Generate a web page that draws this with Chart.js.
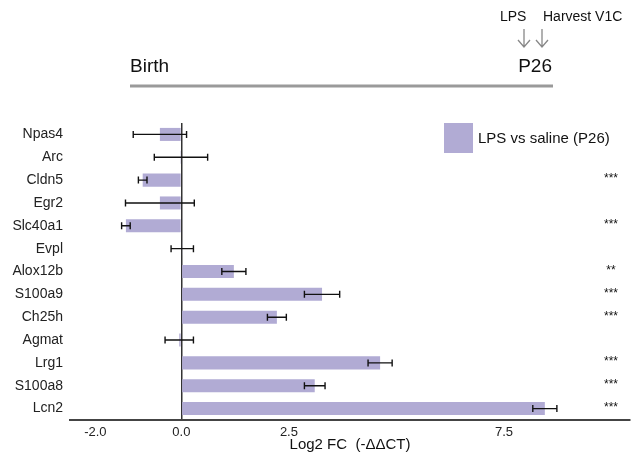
<!DOCTYPE html>
<html>
<head>
<meta charset="utf-8">
<script src="https://cdn.jsdelivr.net/npm/chart.js@4/dist/chart.umd.min.js"></script>
<style>
  html, body { margin: 0; padding: 0; background: #fff; }
  #wrap { width: 633px; height: 462px; position: relative; }
</style>
</head>
<body>
<div id="wrap"><canvas id="c" width="633" height="462"></canvas></div>
<script>
const genes = ['Npas4', 'Arc', 'Cldn5', 'Egr2', 'Slc40a1', 'Evpl', 'Alox12b', 'S100a9', 'Ch25h', 'Agmat', 'Lrg1', 'S100a8', 'Lcn2'];
const log2FC = [-0.50, -0.01, -0.90, -0.50, -1.29, 0.02, 1.22, 3.27, 2.22, -0.05, 4.62, 3.10, 8.45];
const errors = [0.62, 0.62, 0.10, 0.80, 0.10, 0.26, 0.28, 0.41, 0.22, 0.33, 0.28, 0.24, 0.28];
const significance = ['', '', '***', '', '***', '', '**', '***', '***', '', '***', '***', '***'];
const xTickValues = [-2.0, 0.0, 2.5, 7.5];
const seriesLabel = 'LPS vs saline (P26)';
const timelineLabels = ['Birth', 'P26', 'LPS', 'Harvest V1C'];

const FONT = '"Liberation Sans", Arial, Helvetica, sans-serif';
const BAR_COLOR = '#b1abd4';

const extras = {
  id: 'extras',
  afterDatasetsDraw(chart) {
    const ctx = chart.ctx;
    const xs = chart.scales.x, ys = chart.scales.y;
    ctx.save();
    // error bars
    ctx.strokeStyle = '#111';
    ctx.lineWidth = 1.4;
    log2FC.forEach((v, i) => {
      const y = ys.getPixelForValue(i);
      const x1 = xs.getPixelForValue(v - errors[i]);
      const x2 = xs.getPixelForValue(v + errors[i]);
      ctx.beginPath();
      ctx.moveTo(x1, y); ctx.lineTo(x2, y);
      ctx.moveTo(x1, y - 3.5); ctx.lineTo(x1, y + 3.5);
      ctx.moveTo(x2, y - 3.5); ctx.lineTo(x2, y + 3.5);
      ctx.stroke();
    });
    // significance stars
    ctx.fillStyle = '#111';
    ctx.font = '12px ' + FONT;
    ctx.textAlign = 'center';
    ctx.textBaseline = 'middle';
    significance.forEach((s, i) => {
      if (s) ctx.fillText(s, 611, ys.getPixelForValue(i) - 1);
    });
    // legend
    ctx.fillStyle = BAR_COLOR;
    ctx.fillRect(444, 123, 29, 30);
    ctx.fillStyle = '#111';
    ctx.font = '15px ' + FONT;
    ctx.textAlign = 'left';
    ctx.textBaseline = 'middle';
    ctx.fillText(chart.data.datasets[0].label, 478, 139);
    // timeline
    ctx.strokeStyle = '#9a9a9a';
    ctx.lineWidth = 3;
    ctx.beginPath();
    ctx.moveTo(130, 86); ctx.lineTo(553, 86);
    ctx.stroke();
    ctx.fillStyle = '#111';
    ctx.font = '19px ' + FONT;
    ctx.textBaseline = 'middle';
    ctx.textAlign = 'left';
    ctx.fillText(timelineLabels[0], 130, 67);
    ctx.textAlign = 'right';
    ctx.fillText(timelineLabels[1], 552, 67);
    ctx.font = '14px ' + FONT;
    ctx.textAlign = 'left';
    ctx.fillText(timelineLabels[2], 500, 17);
    ctx.fillText(timelineLabels[3], 543, 17);
    // arrows
    ctx.strokeStyle = '#888';
    ctx.lineWidth = 1.3;
    [524, 542].forEach(x => {
      ctx.beginPath();
      ctx.moveTo(x, 29); ctx.lineTo(x, 47);
      ctx.moveTo(x - 6, 40); ctx.lineTo(x, 47); ctx.lineTo(x + 6, 40);
      ctx.stroke();
    });
    ctx.restore();
  }
};

new Chart(document.getElementById('c'), {
  type: 'bar',
  data: {
    labels: genes,
    datasets: [{
      label: seriesLabel,
      data: log2FC,
      backgroundColor: BAR_COLOR,
      borderWidth: 0,
      barPercentage: 0.57,
      categoryPercentage: 1.0
    }]
  },
  options: {
    indexAxis: 'y',
    responsive: false,
    animation: false,
    devicePixelRatio: 1,
    layout: { padding: { top: 123, right: 3, left: 0, bottom: 0 } },
    plugins: { legend: { display: false }, tooltip: { enabled: false } },
    scales: {
      x: {
        type: 'linear',
        min: -2.59,
        max: 10.43,
        afterBuildTicks: axis => { axis.ticks = xTickValues.map(v => ({ value: v })); },
        afterFit: s => { s.height = 42; },
        ticks: {
          autoSkip: false,
          maxRotation: 0,
          padding: 5,
          color: '#222',
          font: { family: FONT, size: 13 },
          callback: v => Number(v).toFixed(1)
        },
        grid: {
          drawTicks: false,
          lineWidth: 1.5,
          color: c => (c.tick && c.tick.value === 0) ? '#333' : 'rgba(0,0,0,0)'
        },
        border: { display: true, color: '#444', width: 2 },
        title: {
          display: true,
          text: 'Log2 FC  (-ΔΔCT)',
          color: '#111',
          font: { family: FONT, size: 15 },
          padding: { top: 0, bottom: 8 }
        }
      },
      y: {
        type: 'category',
        afterFit: s => { s.width = 70; },
        grid: { display: false, drawTicks: false },
        border: { display: false },
        ticks: {
          padding: 7,
          color: '#222',
          font: { family: FONT, size: 14 }
        }
      }
    }
  },
  plugins: [extras]
});
</script>
</body>
</html>
